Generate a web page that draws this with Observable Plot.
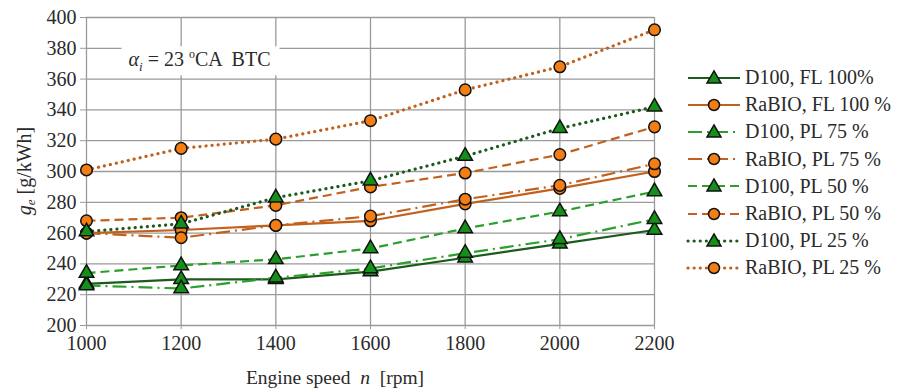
<!DOCTYPE html>
<html><head><meta charset="utf-8">
<script src="https://cdn.jsdelivr.net/npm/d3@7"></script>
<script src="https://cdn.jsdelivr.net/npm/@observablehq/plot@0.6"></script>
<style>
body{margin:0;background:#fff;font-family:"Liberation Serif","Times New Roman",Times,"DejaVu Serif","Noto Serif",serif;}
#wrap{position:relative;width:898px;height:392px;overflow:hidden;}
#legend{position:absolute;left:686px;top:64px;}
.row{display:flex;align-items:center;height:27.2px;font-size:20px;color:#2a2a2a;white-space:nowrap;}
.row svg{margin-right:3px;display:block}
</style></head><body><div id="wrap"><div id="legend"></div></div>
<script>
// ---- data ----
const speeds = [1000, 1200, 1400, 1600, 1800, 2000, 2200];
const seriesNames = ["D100, FL 100%", "RaBIO, FL 100 %", "D100, PL 75 %", "RaBIO, PL 75 %",
                     "D100, PL 50 %", "RaBIO, PL 50 %", "D100, PL 25 %", "RaBIO, PL 25 %"];
const d100FL100  = [227, 230, 230, 235, 244, 253, 262];
const rabioFL100 = [260, 262, 265, 268, 279, 289, 300];
const d100PL75   = [226, 224, 231, 237, 247, 256, 269];
const rabioPL75  = [260, 257, 265, 271, 282, 291, 305];
const d100PL50   = [234, 239, 243, 250, 263, 274, 287];
const rabioPL50  = [268, 270, 278, 290, 299, 311, 329];
const d100PL25   = [261, 266, 283, 294, 310, 328, 342];
const rabioPL25  = [301, 315, 321, 333, 353, 368, 392];
const yTicks = [200, 220, 240, 260, 280, 300, 320, 340, 360, 380, 400];
const xTicks = [1000, 1200, 1400, 1600, 1800, 2000, 2200];
const annotationPos = {speed: 1075, value: 368};

// ---- styles ----
const FONT = "'Liberation Serif', 'Times New Roman', Times, 'DejaVu Serif', 'Noto Serif', serif";
const darkGreen = "#1d5a1d", green = "#2a9f2a", brown = "#c2611e";
const triFill = "#14901a", circFill = "#f27e14";
const allValues = [d100FL100, rabioFL100, d100PL75, rabioPL75, d100PL50, rabioPL50, d100PL25, rabioPL25];
const styles = [
  {stroke: darkGreen, dash: null, sym: "triangle", w: 2.2},
  {stroke: brown, dash: null, sym: "circle", w: 2.2},
  {stroke: green, dash: "14,5,2,5", sym: "triangle", w: 2.2},
  {stroke: brown, dash: "14,5,2,5", sym: "circle", w: 2.2},
  {stroke: green, dash: "9,5", sym: "triangle", w: 2.2},
  {stroke: brown, dash: "9,5", sym: "circle", w: 2.2},
  {stroke: darkGreen, dash: "0.1,6", sym: "triangle", w: 3.2, cap: "round"},
  {stroke: brown, dash: "0.1,6", sym: "circle", w: 3.2, cap: "round"}
];
const rows = seriesNames.map((name, i) => speeds.map((s, j) => ({speed: s, value: allValues[i][j], series: name})));

const lineMarks = rows.map((d, i) => Plot.line(d, {
  x: "speed", y: "value", stroke: styles[i].stroke, strokeWidth: styles[i].w,
  strokeDasharray: styles[i].dash, strokeLinecap: styles[i].cap || "butt"
}));
const dotMarks = rows.map((d, i) => Plot.dot(d, {
  x: "speed", y: "value", symbol: styles[i].sym, r: styles[i].sym === "triangle" ? 5.4 : 5.8,
  fill: styles[i].sym === "triangle" ? triFill : circFill, stroke: "#111", strokeWidth: 1.5
}));

const chart = Plot.plot({
  width: 898, height: 392,
  marginLeft: 86, marginRight: 244, marginTop: 17, marginBottom: 67,
  style: {fontFamily: FONT, fontSize: "20px", color: "#2a2a2a", background: "#fff"},
  x: {domain: [1000, 2200], label: null},
  y: {domain: [200, 400], label: null},
  marks: [
    Plot.gridX(xTicks, {stroke: "#9a9a9a", strokeOpacity: 1, strokeWidth: 1.3}),
    Plot.gridY(yTicks, {stroke: "#9a9a9a", strokeOpacity: 1, strokeWidth: 1.3}),
    Plot.axisY(yTicks, {tickSize: 6, tickPadding: 4, stroke: "#9a9a9a", label: null, fill: "#2a2a2a"}),
    Plot.axisX(xTicks, {tickSize: 4, tickPadding: 6, stroke: "#9a9a9a", label: null, tickFormat: d => String(d), fill: "#2a2a2a"}),
    ...lineMarks,
    ...dotMarks
  ]
});
document.getElementById("wrap").prepend(chart);

// annotation box + axis titles (real text with sub/superscripts)
const svg = d3.select(chart);
const sx = chart.scale("x"), sy = chart.scale("y");
const ax = sx.apply(annotationPos.speed), ay = sy.apply(annotationPos.value);
svg.append("rect").attr("x", ax).attr("y", ay - 20).attr("width", 158).attr("height", 29).attr("fill", "#fff");
const t = svg.append("text").attr("x", ax + 7).attr("y", ay).attr("font-size", 20).attr("text-anchor", "start")
  .attr("font-family", FONT).attr("fill", "#2a2a2a");
t.append("tspan").attr("font-style", "italic").text("α");
t.append("tspan").attr("font-style", "italic").attr("font-size", 13).attr("dy", 5).text("i");
t.append("tspan").attr("dy", -5).text(" = 23 ");
t.append("tspan").attr("font-size", 12).attr("dy", -8).text("o");
t.append("tspan").attr("dy", 8).text("CA  BTC");

const yl = svg.append("text").attr("transform", `translate(31,${(sy.apply(200) + sy.apply(400)) / 2}) rotate(-90)`)
  .attr("text-anchor", "middle").attr("font-size", 20).attr("fill", "#2a2a2a").attr("font-family", FONT);
yl.append("tspan").attr("font-style", "italic").text("g");
yl.append("tspan").attr("font-style", "italic").attr("font-size", 13).attr("dy", 4).text("e");
yl.append("tspan").attr("dy", -4).text(" [g/kWh]");

const xl = svg.append("text").attr("x", sx.apply(1600) - 35).attr("y", 384)
  .attr("text-anchor", "middle").attr("font-size", 19.5).attr("fill", "#2a2a2a").attr("font-family", FONT);
xl.append("tspan").text("Engine speed  ");
xl.append("tspan").attr("font-style", "italic").text("n");
xl.append("tspan").text("  [rpm]");

// legend
const leg = d3.select("#legend");
seriesNames.forEach((name, i) => {
  const st = styles[i];
  const row = leg.append("div").attr("class", "row");
  const s = row.append("svg").attr("width", 56).attr("height", 20);
  s.append("line").attr("x1", 2).attr("x2", 54).attr("y1", 10).attr("y2", 10)
    .attr("stroke", st.stroke).attr("stroke-width", st.w)
    .attr("stroke-dasharray", st.dash).attr("stroke-linecap", st.cap || "butt");
  if (st.sym === "triangle") {
    s.append("path").attr("d", d3.symbol(d3.symbolTriangle, 85)()).attr("transform", "translate(28,11)")
      .attr("fill", triFill).attr("stroke", "#111").attr("stroke-width", 1.5);
  } else {
    s.append("circle").attr("cx", 28).attr("cy", 10).attr("r", 5.5).attr("fill", circFill).attr("stroke", "#111").attr("stroke-width", 1.5);
  }
  row.append("span").style("font-family", FONT).text(name);
});
</script>
</body></html>
